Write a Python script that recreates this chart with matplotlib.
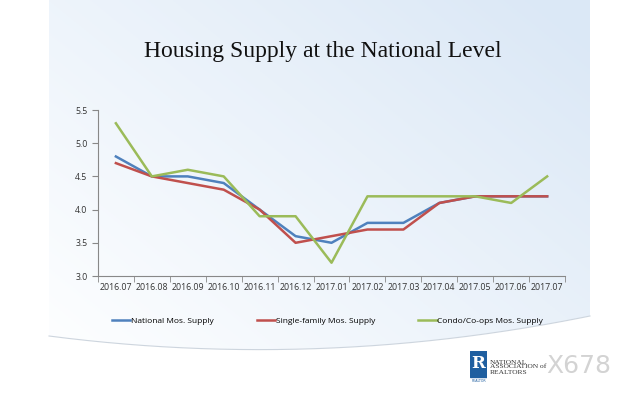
import numpy as np
import matplotlib
matplotlib.use("Agg")
import matplotlib.pyplot as plt
from matplotlib.patches import Rectangle

months = ["2016.07", "2016.08", "2016.09", "2016.10", "2016.11", "2016.12", "2017.01",
          "2017.02", "2017.03", "2017.04", "2017.05", "2017.06", "2017.07"]
national = [4.8, 4.5, 4.5, 4.4, 4.0, 3.6, 3.5, 3.8, 3.8, 4.1, 4.2, 4.2, 4.2]
single_family = [4.7, 4.5, 4.4, 4.3, 4.0, 3.5, 3.6, 3.7, 3.7, 4.1, 4.2, 4.2, 4.2]
condo = [5.3, 4.5, 4.6, 4.5, 3.9, 3.9, 3.2, 4.2, 4.2, 4.2, 4.2, 4.1, 4.5]
series_names = ["National Mos. Supply", "Single-family Mos. Supply", "Condo/Co-ops Mos. Supply"]
yticks = [3.0, 3.5, 4.0, 4.5, 5.0, 5.5]

fig = plt.figure(figsize=(6.4, 4.0), dpi=100)
fig.patch.set_facecolor("white")

# slide background gradient (between x=49 and x=590 px)
bg = fig.add_axes([0, 0, 1, 1], zorder=-10)
x0, x1 = 49 / 640, 590 / 640
xx, yy = np.meshgrid(np.linspace(0, 1, 200), np.linspace(0, 1, 200))
t = np.clip(0.6 * xx + 0.55 * yy - 0.1, 0, 1)
c0 = np.array([0.99, 0.995, 1.0])
c1 = np.array([0.86, 0.91, 0.965])
img = c0[None, None, :] * (1 - t[..., None]) + c1[None, None, :] * t[..., None]
bg.imshow(img, origin="lower", extent=[x0, x1, 0, 1], aspect="auto")
# white bottom area with swoosh
xs = np.linspace(x0, x1, 200)
u = (xs - x0) / (x1 - x0)
curve = 1 - (336 + 70 * u - 90 * u ** 2) / 400
bg.fill_between(xs, 0, curve, color="white", zorder=2)
bg.plot(xs, curve, color="#cdd5de", lw=0.8, zorder=3)
bg.set_xlim(0, 1)
bg.set_ylim(0, 1)
bg.axis("off")

ax = fig.add_axes([0.153, 0.31, 0.73, 0.415])
ax.patch.set_alpha(0)
x = np.arange(len(months))
colors = ["#4F81BD", "#C0504D", "#9BBB59"]
for vals, name, col in zip([national, single_family, condo], series_names, colors):
    ax.plot(x, vals, color=col, lw=1.8, label=name)

ax.set_xlim(-0.5, len(months) - 0.5)
ax.set_ylim(3.0, 5.5)
ax.set_yticks(yticks)
ax.set_yticklabels([f"{v:.1f}" for v in yticks])
ax.set_xticks(x)
ax.set_xticklabels(months)
ax.set_xticks(np.arange(-0.5, len(months), 1.0), minor=True)
ax.tick_params(axis="x", which="major", length=0, labelsize=6.3, pad=5, colors="#333333")
ax.tick_params(axis="x", which="minor", length=4, color="#888888")
ax.tick_params(axis="y", which="major", length=4, labelsize=6.3, colors="#333333", color="#888888")
for lbl in ax.get_xticklabels() + ax.get_yticklabels():
    lbl.set_fontfamily("Open Sans")
for s in ["top", "right"]:
    ax.spines[s].set_visible(False)
for s in ["left", "bottom"]:
    ax.spines[s].set_color("#888888")
    ax.spines[s].set_linewidth(0.8)

fig.legend(loc="center left", bbox_to_anchor=(112 / 640, 0.198), ncol=3, frameon=False,
           prop={"family": "Open Sans", "size": 6.0}, handlelength=2.2, handletextpad=0.05,
           columnspacing=5.2, borderaxespad=0, borderpad=0)

fig.text(0.505, 0.872, "Housing Supply at the National Level", ha="center", va="center",
         fontsize=17, family="Liberation Serif", color="#111111")

# logo
lax = fig.add_axes([470 / 640, 1 - 383 / 400, 17 / 640, 32 / 400])
lax.add_patch(Rectangle((0, 0.18), 1, 0.82, color="#1f5fa0"))
lax.text(0.5, 0.6, "R", color="white", ha="center", va="center", fontsize=12,
         family="DejaVu Serif", weight="bold")
lax.text(0.5, 0.06, "REALTOR", color="#1f5fa0", ha="center", va="center", fontsize=2.3)
lax.set_xlim(0, 1)
lax.set_ylim(0, 1)
lax.axis("off")
fig.text(490 / 640, 1 - 367 / 400, "NATIONAL\nASSOCIATION of\nREALTORS", ha="left", va="center",
         fontsize=5.4, family="Liberation Serif", color="#333333", linespacing=1.0)
fig.text(546 / 640, 1 - 366 / 400, "X678", ha="left", va="center", fontsize=18,
         family="DejaVu Sans", color="#c8c8c8", alpha=0.8)

fig.savefig("out.png", dpi=100)
